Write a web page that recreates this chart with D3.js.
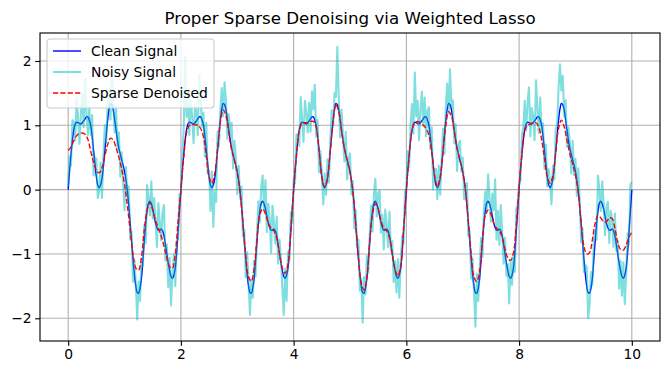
<!DOCTYPE html>
<html>
<head>
<meta charset="utf-8">
<script src="https://cdn.jsdelivr.net/npm/d3@7"></script>
<style>
body { margin: 0; background: #fff; }
svg { display: block; font-family: "DejaVu Sans", sans-serif; }
</style>
</head>
<body>
<div id="chart"></div>
<script>
// sampling of the signals (seconds)
const tStart = 0;
const tEnd = 10;

// clean signal, read every 0.025 s
const cleanSignal = [
  0.00,0.30,0.55,0.77,0.93,1.02,1.05,1.04,1.03,1.02,1.04,1.07,1.10,1.13,1.13,1.08,1.00,0.83,0.62,0.40,
  0.20,0.07,0.03,0.07,0.17,0.36,0.60,0.85,1.08,1.25,1.34,1.32,1.24,1.09,0.92,0.77,0.64,0.55,0.46,0.38,
  0.28,0.15,-0.02,-0.25,-0.52,-0.80,-1.08,-1.32,-1.50,-1.60,-1.61,-1.53,-1.38,-1.10,-0.80,-0.53,-0.33,-0.21,-0.18,-0.22,
  -0.30,-0.41,-0.52,-0.59,-0.63,-0.63,-0.61,-0.64,-0.72,-0.85,-1.00,-1.14,-1.26,-1.35,-1.38,-1.33,-1.22,-0.98,-0.65,-0.32,
  0.00,0.30,0.55,0.77,0.93,1.02,1.05,1.04,1.03,1.02,1.04,1.07,1.10,1.13,1.13,1.08,1.00,0.83,0.62,0.40,
  0.20,0.07,0.03,0.07,0.17,0.36,0.60,0.85,1.08,1.25,1.34,1.32,1.24,1.09,0.92,0.77,0.64,0.55,0.46,0.38,
  0.28,0.15,-0.02,-0.25,-0.52,-0.80,-1.08,-1.32,-1.50,-1.60,-1.61,-1.53,-1.38,-1.10,-0.80,-0.53,-0.33,-0.21,-0.18,-0.22,
  -0.30,-0.41,-0.52,-0.59,-0.63,-0.63,-0.61,-0.64,-0.72,-0.85,-1.00,-1.14,-1.26,-1.35,-1.38,-1.33,-1.22,-0.98,-0.65,-0.32,
  0.00,0.30,0.55,0.77,0.93,1.02,1.05,1.04,1.03,1.02,1.04,1.07,1.10,1.13,1.13,1.08,1.00,0.83,0.62,0.40,
  0.20,0.07,0.03,0.07,0.17,0.36,0.60,0.85,1.08,1.25,1.34,1.32,1.24,1.09,0.92,0.77,0.64,0.55,0.46,0.38,
  0.28,0.15,-0.02,-0.25,-0.52,-0.80,-1.08,-1.32,-1.50,-1.60,-1.61,-1.53,-1.38,-1.10,-0.80,-0.53,-0.33,-0.21,-0.18,-0.22,
  -0.30,-0.41,-0.52,-0.59,-0.63,-0.63,-0.61,-0.64,-0.72,-0.85,-1.00,-1.14,-1.26,-1.35,-1.38,-1.33,-1.22,-0.98,-0.65,-0.32,
  0.00,0.30,0.55,0.77,0.93,1.02,1.05,1.04,1.03,1.02,1.04,1.07,1.10,1.13,1.13,1.08,1.00,0.83,0.62,0.40,
  0.20,0.07,0.03,0.07,0.17,0.36,0.60,0.85,1.08,1.25,1.34,1.32,1.24,1.09,0.92,0.77,0.64,0.55,0.46,0.38,
  0.28,0.15,-0.02,-0.25,-0.52,-0.80,-1.08,-1.32,-1.50,-1.60,-1.61,-1.53,-1.38,-1.10,-0.80,-0.53,-0.33,-0.21,-0.18,-0.22,
  -0.30,-0.41,-0.52,-0.59,-0.63,-0.63,-0.61,-0.64,-0.72,-0.85,-1.00,-1.14,-1.26,-1.35,-1.38,-1.33,-1.22,-0.98,-0.65,-0.32,
  0.00,0.30,0.55,0.77,0.93,1.02,1.05,1.04,1.03,1.02,1.04,1.07,1.10,1.13,1.13,1.08,1.00,0.83,0.62,0.40,
  0.20,0.07,0.03,0.07,0.17,0.36,0.60,0.85,1.08,1.25,1.34,1.32,1.24,1.09,0.92,0.77,0.64,0.55,0.46,0.38,
  0.28,0.15,-0.02,-0.25,-0.52,-0.80,-1.08,-1.32,-1.50,-1.60,-1.61,-1.53,-1.38,-1.10,-0.80,-0.53,-0.33,-0.21,-0.18,-0.22,
  -0.30,-0.41,-0.52,-0.59,-0.63,-0.63,-0.61,-0.64,-0.72,-0.85,-1.00,-1.14,-1.26,-1.35,-1.38,-1.33,-1.22,-0.98,-0.65,-0.32,
  0.00
];

// noisy measurements, every 0.025 s
const noisySignal = [
  0.05,0.52,0.37,1.08,1.05,0.77,1.43,1.12,0.71,1.17,1.49,0.97,1.72,1.18,0.85,1.28,0.85,1.16,0.22,0.50,
  0.48,-0.13,-0.02,0.42,-0.13,0.54,1.00,0.73,1.30,1.55,1.09,1.87,1.34,0.89,1.28,0.62,0.89,0.20,0.58,0.10,
  -0.32,0.35,-0.12,0.05,-0.77,-0.65,-1.43,-1.10,-1.45,-2.02,-1.43,-1.73,-1.08,-1.20,-0.55,-0.83,0.07,-0.11,-0.40,0.13,
  -0.45,-0.13,-0.47,-0.89,-0.21,-0.51,-0.79,-0.34,-0.24,-1.10,-0.85,-1.52,-1.06,-1.80,-1.28,-1.01,-1.50,-0.80,-0.77,-0.07,
  -0.10,0.55,0.95,2.07,1.13,1.57,0.85,1.39,1.13,0.72,1.32,1.22,0.85,1.78,1.43,0.98,1.20,0.51,1.04,0.25,
  0.30,-0.33,0.28,-0.58,-0.03,-0.19,0.90,0.67,1.23,1.58,1.14,1.67,1.36,0.79,1.17,0.85,1.04,0.33,0.76,0.50,
  -0.07,0.37,-0.14,0.05,-0.72,-0.62,-1.36,-0.97,-1.42,-1.95,-1.41,-1.68,-1.10,-1.35,-0.68,-0.18,-0.51,0.04,0.22,-0.32,
  0.15,-0.66,-0.22,-0.44,-0.98,-0.25,-0.51,-0.84,-0.42,-1.15,-0.78,-1.09,-1.54,-1.95,-1.23,-1.73,-0.97,-1.10,-0.35,-0.52,
  0.15,0.10,0.85,0.87,0.68,1.44,1.10,0.74,1.38,1.20,0.89,1.35,0.90,1.53,1.25,1.63,0.82,1.08,0.27,0.60,
  0.25,-0.23,0.25,-0.08,0.47,0.11,0.75,1.23,0.98,1.50,1.44,2.22,1.44,0.81,1.24,0.82,0.44,0.90,0.16,0.48,
  0.56,-0.07,0.13,-0.60,-0.32,-0.90,-0.78,-1.57,-1.38,-2.07,-1.36,-1.63,-1.03,-1.30,-0.70,-0.25,-0.65,-0.06,0.17,-0.42,
  -0.05,-0.01,-0.67,-0.39,-0.93,-0.31,-0.53,-0.89,-0.34,-0.95,-0.80,-1.44,-1.11,-1.60,-1.08,-1.68,-1.12,-0.73,-0.83,-0.02,
  -0.05,0.60,0.35,1.02,1.33,0.87,1.82,1.14,1.38,0.77,1.24,1.52,1.00,1.43,0.83,1.23,1.28,0.63,0.97,0.00,
  0.32,0.32,-0.15,0.37,-0.08,0.46,0.95,0.55,1.28,1.65,1.19,1.87,1.29,1.39,0.72,1.02,0.29,0.70,0.76,0.28,
  0.50,-0.15,0.08,0.10,-0.72,-0.65,-1.38,-1.07,-1.60,-2.13,-1.31,-1.73,-1.23,-0.75,-1.05,-0.33,-0.03,-0.36,0.24,-0.12,
  -0.50,-0.06,-0.32,0.16,-0.78,-0.33,-0.86,-0.24,-0.67,-1.15,-0.75,-1.34,-1.16,-1.77,-1.10,-1.48,-1.02,-1.28,-0.30,-0.22,
  0.10,0.15,0.85,0.97,1.38,0.92,1.35,1.59,0.83,1.27,1.14,0.77,1.70,1.28,0.88,1.43,0.90,1.03,0.32,0.70,
  0.05,0.32,0.13,-0.23,0.37,0.16,0.95,1.00,1.58,1.95,1.54,1.77,1.14,1.39,0.67,0.97,0.74,0.25,0.76,0.23,
  0.48,-0.10,0.33,-0.15,-0.82,-0.60,-1.28,-1.17,-1.20,-2.00,-1.81,-1.28,-1.48,-0.80,-0.65,-0.78,0.22,-0.01,-0.33,0.13,
  -0.20,-0.71,-0.27,-0.19,-0.83,-0.33,-0.46,-0.89,-0.37,-0.95,-0.80,-1.54,-1.11,-1.65,-1.13,-1.78,-1.32,-0.68,-0.85,0.08,
  0.12
];

// weighted lasso reconstruction, every 0.05 s
const denoisedSignal = [
  0.61,0.66,0.76,0.84,0.87,0.88,0.86,0.78,0.60,0.42,0.30,0.26,0.34,0.52,0.70,0.80,0.77,0.65,0.50,0.32,
  0.08,-0.25,-0.63,-1.00,-1.22,-1.25,-1.05,-0.62,-0.32,-0.20,-0.32,-0.48,-0.60,-0.72,-0.88,-1.06,-1.20,-1.22,-1.00,-0.48,
  0.00,0.50,0.88,1.00,1.01,1.01,1.00,0.95,0.82,0.52,0.20,0.10,0.25,0.65,1.05,1.24,1.15,0.88,0.62,0.45,
  0.25,-0.05,-0.52,-1.02,-1.36,-1.42,-1.22,-0.75,-0.38,-0.30,-0.38,-0.52,-0.60,-0.64,-0.76,-1.00,-1.22,-1.30,-1.15,-0.62,
  0.00,0.52,0.92,1.03,1.04,1.04,1.06,1.06,0.97,0.62,0.20,0.04,0.18,0.60,1.06,1.32,1.22,0.92,0.64,0.45,
  0.27,-0.02,-0.52,-1.06,-1.45,-1.56,-1.36,-0.82,-0.38,-0.22,-0.30,-0.48,-0.60,-0.64,-0.75,-1.00,-1.24,-1.34,-1.18,-0.62,
  0.00,0.52,0.92,1.04,1.06,1.04,1.00,0.95,0.85,0.58,0.22,0.05,0.20,0.60,1.00,1.21,1.14,0.90,0.64,0.46,
  0.27,-0.02,-0.50,-1.00,-1.36,-1.43,-1.26,-0.78,-0.40,-0.32,-0.38,-0.52,-0.60,-0.64,-0.74,-0.92,-1.06,-1.10,-0.98,-0.55,
  0.05,0.55,0.92,1.00,1.02,1.04,1.04,0.97,0.78,0.48,0.20,0.10,0.22,0.58,0.95,1.08,0.98,0.76,0.56,0.40,
  0.22,-0.05,-0.50,-0.88,-1.00,-0.98,-0.78,-0.52,-0.40,-0.44,-0.50,-0.50,-0.44,-0.45,-0.60,-0.82,-0.93,-0.94,-0.86,-0.74,
  -0.66
];

const xTicks = [0, 2, 4, 6, 8, 10];
const yTicks = [-2, -1, 0, 1, 2];
const seriesLabels = ["Clean Signal", "Noisy Signal", "Sparse Denoised"];
const chartTitle = "Proper Sparse Denoising via Weighted Lasso";

const width = 670, height = 374;
const margin = {top: 33, right: 10, bottom: 33, left: 40};
const pt = 100 / 72; // figure was saved at ~100 dpi

function timesFor(values) {
    const n = values.length - 1;
    return values.map((v, i) => ({t: tStart + (tEnd - tStart) * i / n, v: v}));
}

const svg = d3.select("#chart")
    .append("svg")
    .attr("width", width)
    .attr("height", height)
    .attr("viewBox", `0 0 ${width} ${height}`);

const x = d3.scaleLinear()
    .domain([-0.5, 10.5])
    .range([margin.left, width - margin.right]);

const y = d3.scaleLinear()
    .domain([-2.353, 2.435])
    .range([height - margin.bottom, margin.top]);

// grid
const grid = svg.append("g")
    .attr("stroke", "#b0b0b0")
    .attr("stroke-width", 0.8 * pt);
grid.selectAll("line.gx")
    .data(xTicks)
    .join("line")
    .attr("class", "gx")
    .attr("x1", d => x(d)).attr("x2", d => x(d))
    .attr("y1", margin.top).attr("y2", height - margin.bottom);
grid.selectAll("line.gy")
    .data(yTicks)
    .join("line")
    .attr("class", "gy")
    .attr("x1", margin.left).attr("x2", width - margin.right)
    .attr("y1", d => y(d)).attr("y2", d => y(d));

const plot = svg.append("g");

const smooth = d3.line()
    .x(d => x(d.t))
    .y(d => y(d.v))
    .curve(d3.curveCatmullRom);

const jagged = d3.line()
    .x(d => x(d.t))
    .y(d => y(d.v));

const styles = [
    {stroke: "#0000ff", opacity: 1, width: 1.0 * pt, dash: null},
    {stroke: "#00bfbf", opacity: 0.5, width: 1.5 * pt, dash: null},
    {stroke: "#ff0000", opacity: 1, width: 1.0 * pt, dash: `${3.7 * pt},${1.6 * pt}`}
];

plot.append("path")
    .datum(timesFor(cleanSignal))
    .attr("fill", "none")
    .attr("stroke", styles[0].stroke)
    .attr("stroke-width", styles[0].width)
    .attr("d", smooth);

plot.append("path")
    .datum(timesFor(noisySignal))
    .attr("fill", "none")
    .attr("stroke", styles[1].stroke)
    .attr("stroke-opacity", styles[1].opacity)
    .attr("stroke-width", styles[1].width)
    .attr("stroke-linejoin", "round")
    .attr("d", jagged);

plot.append("path")
    .datum(timesFor(denoisedSignal))
    .attr("fill", "none")
    .attr("stroke", styles[2].stroke)
    .attr("stroke-width", styles[2].width)
    .attr("stroke-dasharray", styles[2].dash)
    .attr("d", smooth);

// axes
const tickLen = 3.5 * pt;
const xAxis = svg.append("g")
    .attr("transform", `translate(0,${height - margin.bottom})`)
    .call(d3.axisBottom(x).tickValues(xTicks).tickSize(tickLen).tickPadding(3.5).tickFormat(d3.format("d")));
const yAxis = svg.append("g")
    .attr("transform", `translate(${margin.left},0)`)
    .call(d3.axisLeft(y).tickValues(yTicks).tickSize(tickLen).tickPadding(3.5).tickFormat(d3.format("d")));

[xAxis, yAxis].forEach(a => {
    a.select(".domain").remove();
    a.selectAll("text")
        .attr("font-family", "DejaVu Sans, sans-serif")
        .attr("font-size", 10 * pt)
        .attr("fill", "#000");
    a.selectAll(".tick line").attr("stroke", "#000").attr("stroke-width", 0.8 * pt);
});

// legend
const legend = svg.append("g").attr("transform", "translate(47,39)");
legend.append("rect")
    .attr("width", 167)
    .attr("height", 69)
    .attr("rx", 3)
    .attr("fill", "#fff")
    .attr("fill-opacity", 0.8)
    .attr("stroke", "#cccccc")
    .attr("stroke-width", 0.8 * pt);

const rows = legend.selectAll("g.row")
    .data(seriesLabels)
    .join("g")
    .attr("class", "row")
    .attr("transform", (d, i) => `translate(0,${12 + i * 21})`);
rows.append("line")
    .attr("x1", 6).attr("x2", 34)
    .attr("stroke", (d, i) => styles[i].stroke)
    .attr("stroke-opacity", (d, i) => styles[i].opacity)
    .attr("stroke-width", (d, i) => styles[i].width)
    .attr("stroke-dasharray", (d, i) => styles[i].dash);
rows.append("text")
    .attr("x", 44)
    .attr("dy", "0.35em")
    .attr("font-size", 10 * pt)
    .text(d => d);

// frame
svg.append("rect")
    .attr("x", margin.left)
    .attr("y", margin.top)
    .attr("width", width - margin.left - margin.right)
    .attr("height", height - margin.top - margin.bottom)
    .attr("fill", "none")
    .attr("stroke", "#000")
    .attr("stroke-width", 0.8 * pt);

svg.append("text")
    .attr("x", (margin.left + width - margin.right) / 2)
    .attr("y", 24)
    .attr("text-anchor", "middle")
    .attr("font-size", 12 * pt)
    .text(chartTitle);
</script>
</body>
</html>
